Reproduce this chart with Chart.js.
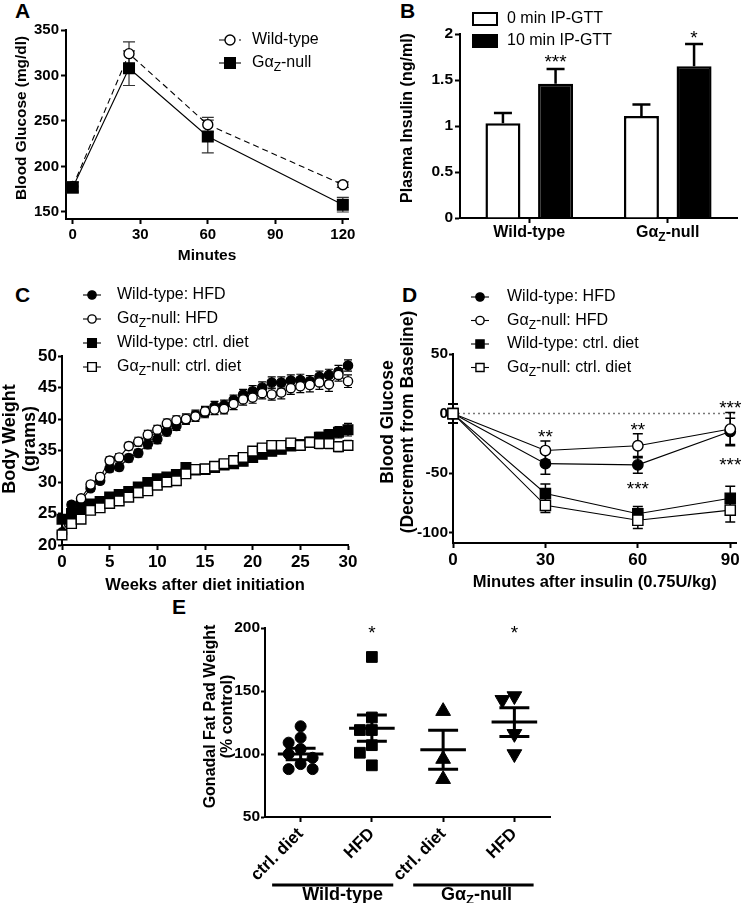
<!DOCTYPE html>
<html lang="en">
<head>
  <meta charset="UTF-8" />
  <title>Gαz-null metabolic phenotype</title>
  <script src="https://cdn.jsdelivr.net/npm/chart.js"></script>
  <style>
    body { margin: 0; background: #fff; width: 745px; height: 903px; position: relative; overflow: hidden; }
    canvas { position: absolute; }
    .panel { position: absolute; font: bold 21px "Liberation Sans", Arial, sans-serif; line-height: 1; }
  </style>
</head>
<body>
  <div class="panel" style="left:15px;top:0px">A</div>
  <div class="panel" style="left:400px;top:0px">B</div>
  <div class="panel" style="left:15px;top:284px">C</div>
  <div class="panel" style="left:402px;top:284px">D</div>
  <div class="panel" style="left:172px;top:596px">E</div>

  <script>
    const FONT = '"Liberation Sans", Arial, sans-serif';

    // A: glucose tolerance test
    const gttMinutes = [0, 25, 60, 120];
    const gttWildType = [178, 324, 246, 180];
    const gttWildTypeSem = [5, 13, 8, 3];
    const gttNull = [177, 308, 233, 158];
    const gttNullSem = [6, 19, 18, 8];
    const gttYTicks = [150, 200, 250, 300, 350];
    const gttXTicks = [0, 30, 60, 90, 120];

    // B: plasma insulin
    const insulinGenotypes = ['Wild-type', 'Gα_{Z}-null'];
    const insulin0 = [1.03, 1.11];
    const insulin0Sem = [0.11, 0.125];
    const insulin10 = [1.46, 1.65];
    const insulin10Sem = [0.16, 0.24];
    const insulinStars = ['***', '*'];
    const insulinYTicks = [0, 0.5, 1, 1.5, 2];

    // C: body weight
    const dietSeries = ['Wild-type: HFD', 'Gα_{Z}-null: HFD', 'Wild-type: ctrl. diet', 'Gα_{Z}-null: ctrl. diet'];
    const weeks = [0, 1, 2, 3, 4, 5, 6, 7, 8, 9, 10, 11, 12, 13, 14, 15, 16, 17, 18, 19, 20, 21, 22, 23, 24, 25, 26, 27, 28, 29, 30];
    const bwWtHfd = [22.0, 26.4, 27.0, 29.0, 30.2, 32.2, 32.4, 33.8, 34.6, 36.0, 36.8, 38.0, 38.9, 39.9, 40.6, 41.0, 42.0, 42.2, 43.0, 43.9, 44.4, 45.0, 45.8, 45.8, 46.1, 46.2, 46.0, 46.7, 47.0, 47.5, 48.5];
    const bwNullHfd = [21.7, 25.0, 27.4, 29.6, 30.8, 33.4, 33.9, 35.7, 36.4, 37.5, 38.3, 39.3, 39.8, 40.0, 40.4, 41.2, 41.5, 41.6, 42.4, 43.1, 43.4, 44.1, 43.9, 44.2, 44.9, 45.2, 45.4, 45.8, 45.5, 47.0, 46.0];
    const bwWtCtrl = [24.1, 25.0, 25.8, 26.5, 26.9, 27.6, 28.0, 28.5, 29.2, 29.9, 30.5, 30.8, 31.2, 32.3, 31.9, 32.0, 32.3, 32.7, 32.9, 33.3, 33.9, 34.4, 34.9, 35.2, 35.7, 35.9, 36.3, 37.1, 37.5, 37.9, 38.3];
    const bwNullCtrl = [21.6, 23.4, 24.1, 25.5, 25.9, 26.6, 27.0, 27.6, 28.3, 28.6, 29.5, 30.0, 30.2, 31.3, 32.0, 32.1, 32.5, 32.9, 33.4, 33.9, 34.9, 35.4, 35.8, 35.8, 36.2, 35.8, 36.3, 36.1, 36.1, 35.6, 35.8];
    const bwWtHfdSem = [0.4, 0.5, 0.5, 0.5, 0.5, 0.6, 0.6, 0.6, 0.6, 0.7, 0.7, 0.7, 0.7, 0.7, 0.8, 0.8, 0.8, 0.8, 0.8, 0.8, 0.9, 0.9, 0.9, 0.9, 0.9, 0.9, 0.9, 0.9, 0.9, 1.0, 0.9];
    const bwNullHfdSem = [0.4, 0.5, 0.5, 0.5, 0.6, 0.6, 0.6, 0.6, 0.7, 0.7, 0.7, 0.7, 0.7, 0.8, 0.8, 0.8, 0.8, 0.8, 0.9, 0.9, 0.9, 0.9, 0.9, 1.0, 1.0, 1.0, 1.1, 1.1, 1.1, 1.0, 1.0];
    const bwWtCtrlSem = [0.4, 0.4, 0.4, 0.4, 0.5, 0.5, 0.5, 0.5, 0.5, 0.5, 0.5, 0.6, 0.6, 0.6, 0.6, 0.6, 0.6, 0.6, 0.6, 0.7, 0.7, 0.7, 0.7, 0.7, 0.7, 0.8, 0.8, 0.8, 0.8, 0.9, 1.0];
    const bwNullCtrlSem = [0.4, 0.4, 0.4, 0.4, 0.4, 0.5, 0.5, 0.5, 0.5, 0.5, 0.5, 0.5, 0.5, 0.6, 0.6, 0.6, 0.6, 0.6, 0.6, 0.6, 0.7, 0.7, 0.7, 0.7, 0.7, 0.7, 0.8, 0.8, 0.8, 0.8, 0.8];
    const bwYTicks = [20, 25, 30, 35, 40, 45, 50];
    const bwXTicks = [0, 5, 10, 15, 20, 25, 30];

    // D: insulin tolerance test
    const itMinutes = [0, 30, 60, 90];
    const itWtHfd = [0, -42, -43, -15];
    const itNullHfd = [0, -31, -27, -13];
    const itWtCtrl = [0, -67, -84, -71];
    const itNullCtrl = [0, -77, -89.5, -81];
    const itWtHfdSem = [8, 9, 7, 11];
    const itNullHfdSem = [8, 8, 10, 14];
    const itWtCtrlSem = [8, 8, 6, 10];
    const itNullCtrlSem = [8, 6, 7, 10];
    const itYTicks = [-100, -50, 0, 50];
    const itXTicks = [0, 30, 60, 90];

    // E: gonadal fat pad
    const fatCategories = ['ctrl. diet', 'HFD', 'ctrl. diet', 'HFD'];
    const fatGenotypes = ['Wild-type', 'Gα_{Z}-null'];
    const fatWtCtrl = [122, 113, 109, 104, 100, 97, 92, 88, 88];
    const fatWtHfd = [177, 129, 119, 119, 107, 101, 91];
    const fatNullCtrl = [134, 96, 80];
    const fatNullHfd = [146, 143, 116, 100];
    const fatMeans = [100, 120.5, 103.3, 125.3];
    const fatSems = [4.5, 10.4, 15.5, 11.5];
    const fatStars = ['', '*', '', '*'];
    const fatYTicks = [50, 100, 150, 200];

    // ---------- helpers ----------
    function makeCanvas(left, top, w, h) {
      const c = document.createElement('canvas');
      c.width = w; c.height = h;
      c.style.left = left + 'px'; c.style.top = top + 'px';
      c.style.width = w + 'px'; c.style.height = h + 'px';
      document.body.appendChild(c);
      return c;
    }

    function richParts(s) {
      const out = [];
      const re = /_\{([^}]*)\}/g;
      let last = 0, m;
      while ((m = re.exec(s))) {
        if (m.index > last) out.push({ t: s.slice(last, m.index) });
        out.push({ t: m[1], sub: true });
        last = re.lastIndex;
      }
      if (last < s.length) out.push({ t: s.slice(last) });
      return out;
    }

    function drawRich(ctx, s, x, y, size, weight, align) {
      const parts = richParts(s);
      const fBase = weight + ' ' + size + 'px ' + FONT;
      const fSub = weight + ' ' + Math.round(size * 0.72) + 'px ' + FONT;
      let w = 0;
      parts.forEach(p => { ctx.font = p.sub ? fSub : fBase; w += ctx.measureText(p.t).width; });
      let cx = align === 'center' ? x - w / 2 : (align === 'right' ? x - w : x);
      ctx.textAlign = 'left';
      ctx.textBaseline = 'middle';
      parts.forEach(p => {
        ctx.font = p.sub ? fSub : fBase;
        ctx.fillText(p.t, cx, p.sub ? y + size * 0.3 : y);
        cx += ctx.measureText(p.t).width;
      });
    }

    function drawMarker(ctx, style, x, y, r, rot) {
      ctx.beginPath();
      if (style === 'rect') {
        const h = r * Math.SQRT1_2;
        ctx.rect(x - h, y - h, 2 * h, 2 * h);
      } else if (style === 'triangle') {
        let a = (rot || 0) * Math.PI / 180;
        for (let k = 0; k < 3; k++) {
          const px = x + Math.sin(a) * r, py = y - Math.cos(a) * r;
          k ? ctx.lineTo(px, py) : ctx.moveTo(px, py);
          a += 2 * Math.PI / 3;
        }
        ctx.closePath();
      } else {
        ctx.arc(x, y, r, 0, Math.PI * 2);
      }
      ctx.fill();
      ctx.stroke();
    }

    function drawErrors(chart, o) {
      const ctx = chart.ctx;
      chart.data.datasets.forEach((ds, i) => {
        if (!ds.errors) return;
        const meta = chart.getDatasetMeta(i);
        const ys = chart.scales[meta.yAxisID];
        ctx.save();
        ctx.strokeStyle = o.color || '#000';
        ctx.lineWidth = o.width || 1;
        meta.data.forEach((el, j) => {
          const e = ds.errors[j];
          if (!e) return;
          const raw = ds.data[j];
          const v = typeof raw === 'object' ? raw.y : raw;
          const hi = ys.getPixelForValue(v + e);
          const lo = o.upOnly ? ys.getPixelForValue(v) : ys.getPixelForValue(v - e);
          const c = o.cap || 4;
          ctx.beginPath();
          ctx.moveTo(el.x, lo); ctx.lineTo(el.x, hi);
          ctx.moveTo(el.x - c, hi); ctx.lineTo(el.x + c, hi);
          if (!o.upOnly) { ctx.moveTo(el.x - c, lo); ctx.lineTo(el.x + c, lo); }
          ctx.stroke();
        });
        ctx.restore();
      });
    }

    const errorBars = {
      id: 'errorBars',
      beforeDatasetsDraw(chart, args, o) { if (o.layer !== 'after') drawErrors(chart, o); },
      afterDatasetsDraw(chart, args, o) { if (o.layer === 'after') drawErrors(chart, o); }
    };

    const markerLegend = {
      id: 'markerLegend',
      afterDraw(chart, args, o) {
        if (!o.rows) return;
        const ctx = chart.ctx;
        chart.data.datasets.forEach((ds, i) => {
          const y = o.rows[i];
          if (y === undefined) return;
          ctx.save();
          if (o.box) {
            ctx.fillStyle = ds.backgroundColor;
            ctx.strokeStyle = '#000';
            ctx.lineWidth = 2;
            ctx.fillRect(o.x - o.half, y - o.boxH / 2, o.half * 2, o.boxH);
            ctx.strokeRect(o.x - o.half, y - o.boxH / 2, o.half * 2, o.boxH);
          } else {
            ctx.strokeStyle = '#000';
            ctx.lineWidth = ds.borderWidth;
            ctx.setLineDash(ds.borderDash || []);
            ctx.beginPath();
            ctx.moveTo(o.x - o.half, y); ctx.lineTo(o.x + o.half, y);
            ctx.stroke();
            ctx.setLineDash([]);
            ctx.fillStyle = ds.pointBackgroundColor;
            ctx.strokeStyle = '#000';
            ctx.lineWidth = ds.pointBorderWidth;
            drawMarker(ctx, ds.pointStyle, o.x, y, ds.pointRadius * (o.scale || 1), ds.pointRotation);
          }
          ctx.fillStyle = '#000';
          drawRich(ctx, ds.label, o.textX, y, o.size || 16, 'normal', 'left');
          ctx.restore();
        });
      }
    };

    // vertical axis titles, one or two lines, centred where the figure has them
    const vTitle = {
      id: 'vTitle',
      afterDraw(chart, args, o) {
        if (!o.lines) return;
        const ctx = chart.ctx;
        ctx.save();
        ctx.fillStyle = '#000';
        ctx.font = 'bold ' + o.size + 'px ' + FONT;
        ctx.textAlign = 'center';
        ctx.textBaseline = 'middle';
        o.lines.forEach((t, i) => {
          ctx.save();
          ctx.translate(o.xs[i], o.cy);
          ctx.rotate(-Math.PI / 2);
          ctx.fillText(t, 0, 0);
          ctx.restore();
        });
        ctx.restore();
      }
    };

    // significance stars anchored to data values
    const notes = {
      id: 'notes',
      afterDatasetsDraw(chart, args, o) {
        if (!o.items) return;
        const ctx = chart.ctx;
        const size = o.size || 19;
        ctx.save();
        ctx.fillStyle = '#000';
        ctx.font = size + 'px ' + FONT;
        ctx.textAlign = 'center';
        ctx.textBaseline = 'middle';
        o.items.forEach(it => {
          if (!it.text) return;
          const x = it.dataset !== undefined
            ? chart.getDatasetMeta(it.dataset).data[it.index].x
            : chart.scales.x.getPixelForValue(it.x);
          const y = chart.scales.y.getPixelForValue(it.y) - (it.dy || 0);
          ctx.fillText(it.text, x, y + size * 0.22);
        });
        ctx.restore();
      }
    };

    const refLine = {
      id: 'refLine',
      beforeDatasetsDraw(chart, args, o) {
        if (o.value === undefined) return;
        const { ctx, chartArea } = chart;
        const y = chart.scales.y.getPixelForValue(o.value);
        ctx.save();
        ctx.strokeStyle = '#777';
        ctx.lineWidth = 1.5;
        ctx.setLineDash([2, 3]);
        ctx.beginPath();
        ctx.moveTo(chartArea.left, y); ctx.lineTo(chartArea.right, y);
        ctx.stroke();
        ctx.restore();
      }
    };

    const richTicks = {
      id: 'richTicks',
      afterDraw(chart, args, o) {
        if (!o.labels) return;
        const ctx = chart.ctx;
        ctx.save();
        ctx.fillStyle = '#000';
        o.labels.forEach((s, i) => {
          drawRich(ctx, s, chart.scales.x.getPixelForValue(i), o.y, o.size || 16, 'bold', 'center');
        });
        ctx.restore();
      }
    };

    const meanSem = {
      id: 'meanSem',
      afterDatasetsDraw(chart, args, o) {
        if (!o.means) return;
        const { ctx } = chart;
        const xs = chart.scales.x, ys = chart.scales.y;
        const unit = xs.getPixelForValue(2) - xs.getPixelForValue(1);
        ctx.save();
        ctx.strokeStyle = '#000';
        ctx.lineWidth = 3;
        o.means.forEach((m, i) => {
          const cx = xs.getPixelForValue(i + 1);
          const ym = ys.getPixelForValue(m);
          const yh = ys.getPixelForValue(m + o.sems[i]);
          const yl = ys.getPixelForValue(m - o.sems[i]);
          const hm = o.meanHalf * unit, hc = o.capHalf * unit;
          ctx.beginPath();
          ctx.moveTo(cx - hm, ym); ctx.lineTo(cx + hm, ym);
          ctx.moveTo(cx - hc, yh); ctx.lineTo(cx + hc, yh);
          ctx.moveTo(cx - hc, yl); ctx.lineTo(cx + hc, yl);
          ctx.moveTo(cx, yh); ctx.lineTo(cx, yl);
          ctx.stroke();
        });
        ctx.restore();
      }
    };

    const groupBars = {
      id: 'groupBars',
      afterDraw(chart, args, o) {
        if (!o.groups) return;
        const { ctx } = chart;
        const xs = chart.scales.x;
        ctx.save();
        ctx.strokeStyle = '#000';
        ctx.fillStyle = '#000';
        ctx.lineWidth = 3;
        o.groups.forEach(g => {
          const x0 = xs.getPixelForValue(g.from), x1 = xs.getPixelForValue(g.to);
          ctx.beginPath();
          ctx.moveTo(x0, o.lineY); ctx.lineTo(x1, o.lineY);
          ctx.stroke();
          drawRich(ctx, g.label, (x0 + x1) / 2 + (g.dx || 0), o.textY, o.size || 17, 'bold', 'center');
        });
        ctx.restore();
      }
    };

    function yAxis(o) {
      return {
        type: 'linear', position: 'left', min: o.min, max: o.max,
        afterBuildTicks: s => { s.ticks = o.ticks.map(v => ({ value: v })); },
        afterFit: s => { s.width = o.width; },
        border: { display: true, color: '#000', width: 2 },
        grid: { drawOnChartArea: false, tickLength: o.tickLength || 5, tickWidth: 2, tickColor: '#000' },
        ticks: {
          color: '#000', font: { size: o.tickSize, weight: 'bold' },
          padding: o.tickPad === undefined ? 2 : o.tickPad,
          callback: v => String(v)
        },
        title: { display: false }
      };
    }

    function xAxis(o) {
      return {
        type: o.type || 'linear', position: 'bottom', min: o.min, max: o.max,
        afterBuildTicks: o.ticks ? (s => { s.ticks = o.ticks.map(v => ({ value: v })); }) : undefined,
        afterFit: s => { s.height = o.height; },
        border: { display: true, color: '#000', width: 2 },
        grid: { drawOnChartArea: false, offset: false, tickLength: 5, tickWidth: 2, tickColor: '#000' },
        ticks: Object.assign({ color: '#000', font: { size: o.tickSize, weight: 'bold' }, padding: 2, autoSkip: false, maxRotation: 0 }, o.tickOpts || {}),
        title: o.title
          ? { display: true, text: o.title, color: '#000', font: { size: o.titleSize, weight: 'bold' }, padding: { top: 0, bottom: o.titlePad } }
          : { display: false }
      };
    }

    function points(xs, ys) {
      return xs.map((x, i) => ({ x: x, y: ys[i] }));
    }

    // spread points of one column horizontally so markers do not sit on top of each other
    function swarm(values, center) {
      const d = 12, pxX = 71.25, pxY = 1.252;
      const placed = [];
      const out = new Array(values.length);
      values.map((v, i) => i).sort((a, b) => values[b] - values[a]).forEach(i => {
        const y = values[i] * pxY;
        for (let k = 0; k < 20; k++) {
          const off = (k % 2 ? -1 : 1) * Math.ceil(k / 2) * d / 2;
          if (placed.every(p => (p.x - off) ** 2 + (p.y - y) ** 2 >= d * d * 0.85)) {
            placed.push({ x: off, y: y });
            out[i] = { x: center + off / pxX, y: values[i] };
            break;
          }
        }
      });
      return out;
    }

    function lineSet(label, data, errors, style, fill, r, extra) {
      return Object.assign({
        label: label, data: data, errors: errors,
        borderColor: '#000', borderWidth: 1.1,
        pointStyle: style, pointRadius: r, pointHoverRadius: r,
        pointBackgroundColor: fill, pointBorderColor: '#000', pointBorderWidth: 1.4,
        clip: false, tension: 0
      }, extra || {});
    }

    const base = { responsive: false, animation: false, events: [] };

    // ---------- A ----------
    new Chart(makeCanvas(0, 0, 370, 272), {
      type: 'line',
      data: {
        datasets: [
          lineSet('Wild-type', points(gttMinutes, gttWildType), gttWildTypeSem, 'circle', '#fff', 5, { borderDash: [6, 4], order: 1 }),
          lineSet('Gα_{Z}-null', points(gttMinutes, gttNull), gttNullSem, 'rect', '#000', 7.5, { order: 0 })
        ]
      },
      options: Object.assign({}, base, {
        layout: { padding: { left: 0, right: 22, top: 30, bottom: 0 } },
        scales: {
          x: xAxis({ min: -3, max: 122.3, ticks: gttXTicks, height: 53, tickSize: 15, title: 'Minutes', titleSize: 15.5, titlePad: 6.7 }),
          y: yAxis({ min: 142.3, max: 350, ticks: gttYTicks, width: 66, tickSize: 15 })
        },
        plugins: {
          legend: { display: false }, tooltip: { enabled: false },
          errorBars: { color: '#333', width: 1.2, cap: 6 },
          markerLegend: { x: 230, half: 11, textX: 252, rows: [40, 63], size: 16 },
          vTitle: { lines: ['Blood Glucose (mg/dl)'], xs: [22], cy: 118, size: 15.4 }
        }
      }),
      plugins: [errorBars, markerLegend, vTitle]
    });

    // ---------- B ----------
    new Chart(makeCanvas(370, 0, 375, 272), {
      type: 'bar',
      data: {
        labels: insulinGenotypes,
        datasets: [
          { label: '0 min IP-GTT', data: insulin0, errors: insulin0Sem, backgroundColor: '#fff', borderColor: '#000', borderWidth: 2.5 },
          { label: '10 min IP-GTT', data: insulin10, errors: insulin10Sem, backgroundColor: '#000', borderColor: '#000', borderWidth: 2.5 }
        ]
      },
      options: Object.assign({}, base, {
        layout: { padding: { left: 0, right: 8, top: 34, bottom: 0 } },
        datasets: { bar: { categoryPercentage: 0.76, barPercentage: 0.665 } },
        scales: {
          x: xAxis({ type: 'category', height: 54, tickSize: 16, tickOpts: { display: false } }),
          y: yAxis({ min: 0, max: 2, ticks: insulinYTicks, width: 90, tickSize: 15.5 })
        },
        plugins: {
          legend: { display: false }, tooltip: { enabled: false },
          errorBars: { layer: 'after', upOnly: true, width: 2.5, cap: 9 },
          markerLegend: { box: true, x: 115, half: 12, boxH: 12, textX: 137, rows: [19, 41], size: 16 },
          richTicks: { labels: insulinGenotypes, y: 233, size: 16 },
          vTitle: { lines: ['Plasma Insulin (ng/ml)'], xs: [38], cy: 118, size: 16 },
          notes: {
            size: 19,
            items: insulinStars.map((t, i) => ({ dataset: 1, index: i, y: insulin10[i] + insulin10Sem[i], dy: 10, text: t }))
          }
        }
      }),
      plugins: [errorBars, markerLegend, richTicks, vTitle, notes]
    });

    // ---------- C ----------
    new Chart(makeCanvas(0, 280, 370, 322), {
      type: 'line',
      data: {
        datasets: [
          lineSet(dietSeries[0], points(weeks, bwWtHfd), bwWtHfdSem, 'circle', '#000', 4.6, { order: 3 }),
          lineSet(dietSeries[1], points(weeks, bwNullHfd), bwNullHfdSem, 'circle', '#fff', 4.6, { order: 2 }),
          lineSet(dietSeries[2], points(weeks, bwWtCtrl), bwWtCtrlSem, 'rect', '#000', 6.8, { order: 1 }),
          lineSet(dietSeries[3], points(weeks, bwNullCtrl), bwNullCtrlSem, 'rect', '#fff', 6.8, { order: 0 })
        ]
      },
      options: Object.assign({}, base, {
        layout: { padding: { left: 0, right: 22, top: 76, bottom: 0 } },
        scales: {
          x: xAxis({ min: 0, max: 30, ticks: bwXTicks, height: 57, tickSize: 17, title: 'Weeks after diet initiation', titleSize: 16.5, titlePad: 7.1 }),
          y: yAxis({ min: 20, max: 50, ticks: bwYTicks, width: 62, tickSize: 17, tickLength: 4, tickPad: 1 })
        },
        plugins: {
          legend: { display: false }, tooltip: { enabled: false },
          errorBars: { width: 1.2, cap: 4 },
          markerLegend: { x: 92, half: 9, textX: 117, rows: [15, 39, 63, 87], size: 16, scale: 0.9 },
          vTitle: { lines: ['Body Weight', '(grams)'], xs: [10, 30], cy: 159, size: 18 }
        }
      }),
      plugins: [errorBars, markerLegend, vTitle]
    });

    // ---------- D ----------
    new Chart(makeCanvas(370, 280, 375, 322), {
      type: 'line',
      data: {
        datasets: [
          lineSet(dietSeries[0], points(itMinutes, itWtHfd), itWtHfdSem, 'circle', '#000', 5.2, { order: 3 }),
          lineSet(dietSeries[1], points(itMinutes, itNullHfd), itNullHfdSem, 'circle', '#fff', 5.2, { order: 2 }),
          lineSet(dietSeries[2], points(itMinutes, itWtCtrl), itWtCtrlSem, 'rect', '#000', 7.2, { order: 1 }),
          lineSet(dietSeries[3], points(itMinutes, itNullCtrl), itNullCtrlSem, 'rect', '#fff', 7.2, { order: 0 })
        ]
      },
      options: Object.assign({}, base, {
        layout: { padding: { left: 0, right: 5, top: 74, bottom: 0 } },
        scales: {
          x: xAxis({ min: 0, max: 92, ticks: itXTicks, height: 59, tickSize: 17, title: 'Minutes after insulin (0.75U/kg)', titleSize: 16.5, titlePad: 10.1 }),
          y: yAxis({ min: -108.6, max: 50, ticks: itYTicks, width: 83, tickSize: 15.5, tickLength: 4, tickPad: 1 })
        },
        plugins: {
          legend: { display: false }, tooltip: { enabled: false },
          errorBars: { width: 1.5, cap: 5 },
          refLine: { value: 0 },
          markerLegend: { x: 110, half: 9, textX: 137, rows: [17, 40.5, 64, 87.5], size: 16, scale: 0.8 },
          vTitle: { lines: ['Blood Glucose', '(Decrement from Baseline)'], xs: [18, 38], cy: 142, size: 17.5 },
          notes: {
            size: 19,
            items: [
              { x: 30, y: -16.4, text: '**' },
              { x: 60, y: -10.6, text: '**' },
              { x: 90, y: 7.8, text: '***' },
              { x: 90, y: -40.6, text: '***' },
              { x: 60, y: -60.6, text: '***' }
            ]
          }
        }
      }),
      plugins: [refLine, errorBars, markerLegend, vTitle, notes]
    });

    // ---------- E ----------
    const fatSet = (data, col, style, r, rot) => ({
      data: swarm(data, col), pointStyle: style, pointRadius: r, pointHoverRadius: r, pointRotation: rot || 0,
      pointBackgroundColor: '#000', pointBorderColor: '#000', pointBorderWidth: 1, showLine: false, clip: false
    });

    new Chart(makeCanvas(175, 595, 390, 308), {
      type: 'scatter',
      data: {
        datasets: [
          fatSet(fatWtCtrl, 1, 'circle', 5.5),
          fatSet(fatWtHfd, 2, 'rect', 7.6),
          fatSet(fatNullCtrl, 3, 'triangle', 8.5),
          fatSet(fatNullHfd, 4, 'triangle', 8.5, 180)
        ]
      },
      options: Object.assign({}, base, {
        layout: { padding: { left: 0, right: 15, top: 33, bottom: 0 } },
        scales: {
          x: xAxis({
            min: 0.5, max: 4.5, ticks: [1, 2, 3, 4], height: 86, tickSize: 17,
            tickOpts: { minRotation: 45, maxRotation: 45, callback: v => fatCategories[v - 1] }
          }),
          y: yAxis({ min: 50, max: 200, ticks: fatYTicks, width: 90, tickSize: 15.5, tickLength: 4, tickPad: 1 })
        },
        plugins: {
          legend: { display: false }, tooltip: { enabled: false },
          meanSem: { means: fatMeans, sems: fatSems, meanHalf: 0.32, capHalf: 0.21 },
          vTitle: { lines: ['Gonadal Fat Pad Weight', '(% control)'], xs: [36, 53], cy: 121.5, size: 16 },
          notes: { size: 19, items: fatStars.map((t, i) => ({ x: i + 1, y: 198.6, text: t })) },
          groupBars: {
            lineY: 290, textY: 300, size: 18,
            groups: [
              { from: 0.6, to: 2.3, label: fatGenotypes[0], dx: 10 },
              { from: 2.58, to: 4.27, label: fatGenotypes[1], dx: 3 }
            ]
          }
        }
      }),
      plugins: [meanSem, vTitle, notes, groupBars]
    });
  </script>
</body>
</html>
